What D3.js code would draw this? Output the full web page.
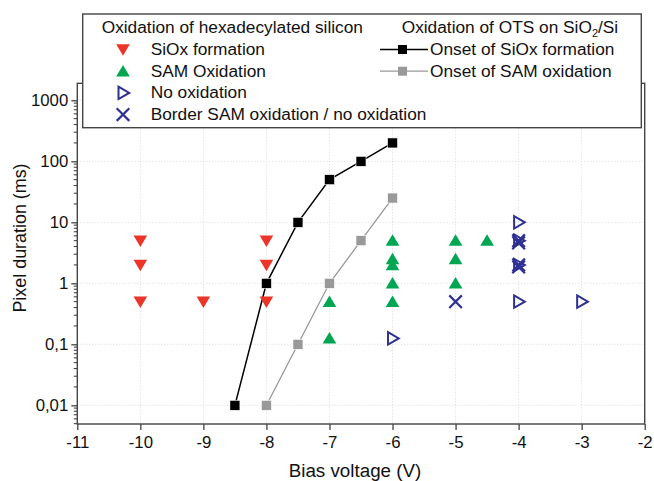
<!DOCTYPE html>
<meta charset="utf-8">
<html>
<head>
  <style>
  body { margin: 0; background: #fff; }
  text { font-family: "Liberation Sans", Arial, sans-serif; fill: #111; }
  .grid line { stroke: #d8d8d8; stroke-dasharray: 1,2; }
  </style>
  <script src="https://d3js.org/d3.v7.min.js"></script>
</head>
<body>
  <div id="chart"></div>
  <script type="text/javascript">
  var width = 654, height = 481;

  // plot frame (pixels)
  var plotLeft = 77.3, plotRight = 644.7, plotTop = 83.3, plotBottom = 424;

  /* Data */
  var xTicks = [-11, -10, -9, -8, -7, -6, -5, -4, -3, -2];
  var yTicks = [0.01, 0.1, 1, 10, 100, 1000];
  var yTickLabels = ["0,01", "0,1", "1", "10", "100", "1000"];

  // Oxidation of hexadecylated silicon
  var siox = [[-10, 5], [-10, 2], [-10, 0.5], [-9, 0.5], [-8, 5], [-8, 2], [-8, 0.5]];
  var samOx = [[-7, 0.5], [-7, 0.125], [-6, 5], [-6, 2.5], [-6, 2], [-6, 1], [-6, 0.5],
               [-5, 5], [-5, 2.5], [-5, 1], [-4.5, 5]];
  var noOx = [[-6, 0.125], [-4, 10], [-4, 5], [-4, 2], [-4, 0.5], [-3, 0.5]];
  var border = [[-5, 0.5], [-4, 5], [-4, 4.6], [-4, 2], [-4, 1.85]];

  // Oxidation of OTS on SiO2/Si
  var onsetSiox = [[-8.5, 0.01], [-8, 1], [-7.5, 10], [-7, 50], [-6.5, 100], [-6, 200]];
  var onsetSam = [[-8, 0.01], [-7.5, 0.1], [-7, 1], [-6.5, 5], [-6, 25]];

  var RED = "#ec3428", GREEN = "#00a651", BLUE = "#2e3192";

  var x = d3.scaleLinear().domain([-11, -2]).range([plotLeft, plotRight]);
  var y = d3.scaleLog().domain([0.00494, 1900]).range([plotBottom, plotTop]);

  var svg = d3.select("#chart").append("svg")
    .attr("width", width)
    .attr("height", height);

  // grid
  var grid = svg.append("g").attr("class", "grid");
  grid.selectAll(".gx").data(xTicks.slice(1, -1)).enter().append("line")
    .attr("x1", function(d) { return x(d); }).attr("x2", function(d) { return x(d); })
    .attr("y1", plotTop).attr("y2", plotBottom);
  grid.selectAll(".gy").data(yTicks).enter().append("line")
    .attr("x1", plotLeft).attr("x2", plotRight)
    .attr("y1", function(d) { return y(d); }).attr("y2", function(d) { return y(d); });

  // axes
  var xAxis = svg.append("g")
    .attr("transform", "translate(0," + plotBottom + ")")
    .call(d3.axisBottom(x).tickValues(xTicks).tickSize(6).tickPadding(4)
      .tickFormat(function(d) { return d; }));
  xAxis.selectAll("text").style("font-size", "16.8px").attr("dy", "0.85em");

  // minor log ticks
  var minor = [];
  for (var e = -3; e <= 3; e++) {
    for (var m = 2; m <= 9; m++) {
      var v = m * Math.pow(10, e);
      if (v >= y.domain()[0] && v <= y.domain()[1]) minor.push(v);
    }
  }
  svg.append("g").selectAll("line").data(minor).enter().append("line")
    .attr("x1", plotLeft - 3.5).attr("x2", plotLeft)
    .attr("y1", function(d) { return y(d); }).attr("y2", function(d) { return y(d); })
    .attr("stroke", "#333").attr("stroke-width", 1);

  var yAxis = svg.append("g")
    .attr("transform", "translate(" + plotLeft + ",0)")
    .call(d3.axisLeft(y).tickValues(yTicks).tickSize(6).tickPadding(3)
      .tickFormat(function(d, i) { return yTickLabels[i]; }));
  yAxis.selectAll("text").style("font-size", "16.8px");

  svg.selectAll(".domain").remove();
  svg.selectAll(".tick line").attr("stroke", "#333").attr("stroke-width", 1.2);

  // frame
  svg.append("rect")
    .attr("x", plotLeft).attr("y", plotTop)
    .attr("width", plotRight - plotLeft).attr("height", plotBottom - plotTop)
    .attr("fill", "none").attr("stroke", "#444").attr("stroke-width", 1.4);

  // axis titles
  svg.append("text")
    .attr("x", 355).attr("y", 476.5)
    .attr("text-anchor", "middle")
    .style("font-size", "18.8px")
    .text("Bias voltage (V)");
  svg.append("text")
    .attr("transform", "translate(26,238) rotate(-90)")
    .attr("text-anchor", "middle")
    .style("font-size", "17.9px")
    .text("Pixel duration (ms)");

  // lines
  var line = d3.line().x(function(d) { return x(d[0]); }).y(function(d) { return y(d[1]); });
  svg.append("path").datum(onsetSam).attr("d", line)
    .attr("fill", "none").attr("stroke", "#999").attr("stroke-width", 1.3);
  svg.append("path").datum(onsetSiox).attr("d", line)
    .attr("fill", "none").attr("stroke", "#000").attr("stroke-width", 1.5);

  function squares(data, color) {
    svg.append("g").selectAll("rect").data(data).enter().append("rect")
      .attr("x", function(d) { return x(d[0]) - 5; })
      .attr("y", function(d) { return y(d[1]) - 5; })
      .attr("width", 10).attr("height", 10)
      .attr("fill", color).attr("stroke", "#fff").attr("stroke-width", 0.6);
  }
  squares(onsetSam, "#999");
  squares(onsetSiox, "#000");

  // marker path generators (centered at 0,0)
  var downTri = "M-6.8,-5.2L6.8,-5.2L0,6.3Z";
  var upTri = "M-6.8,5.2L6.8,5.2L0,-6.3Z";
  var rightTri = "M-4.5,-6.2L6.2,0L-4.5,6.2Z";
  var cross = "M-6.3,-6.3L6.3,6.3M6.3,-6.3L-6.3,6.3";

  function markers(data, path, fill, stroke, sw) {
    svg.append("g").selectAll("path").data(data).enter().append("path")
      .attr("d", path)
      .attr("transform", function(d) { return "translate(" + x(d[0]) + "," + y(d[1]) + ")"; })
      .attr("fill", fill).attr("stroke", stroke).attr("stroke-width", sw);
  }
  markers(siox, downTri, RED, "none", 0);
  markers(samOx, upTri, GREEN, "none", 0);
  markers(noOx, rightTri, "none", BLUE, 2);
  markers(border, cross, "none", BLUE, 2.2);

  // legend
  var lg = svg.append("g");
  lg.append("rect")
    .attr("x", 82.7).attr("y", 14).attr("width", 558.6).attr("height", 113.7)
    .attr("fill", "#fff").attr("stroke", "#444").attr("stroke-width", 1.4);

  var leftItems = [
    { label: "SiOx formation", path: downTri, fill: RED, stroke: "none", sw: 0 },
    { label: "SAM Oxidation", path: upTri, fill: GREEN, stroke: "none", sw: 0 },
    { label: "No oxidation", path: rightTri, fill: "none", stroke: BLUE, sw: 2 },
    { label: "Border SAM oxidation / no oxidation", path: cross, fill: "none", stroke: BLUE, sw: 2.2 }
  ];
  var rowY = function(i) { return 55 + i * 21.7; };

  lg.append("text").attr("x", 101.7).attr("y", 33).style("font-size", "17.3px")
    .text("Oxidation of hexadecylated silicon");
  var li = lg.selectAll(".li").data(leftItems).enter().append("g");
  li.append("path")
    .attr("d", function(d) { return d.path; })
    .attr("transform", function(d, i) { return "translate(123," + (rowY(i) - 5.5) + ")"; })
    .attr("fill", function(d) { return d.fill; })
    .attr("stroke", function(d) { return d.stroke; })
    .attr("stroke-width", function(d) { return d.sw; });
  li.append("text")
    .attr("x", 150.7).attr("y", function(d, i) { return rowY(i); })
    .style("font-size", "17.3px")
    .text(function(d) { return d.label; });

  var t = lg.append("text").attr("x", 401.7).attr("y", 33).style("font-size", "17.3px");
  t.append("tspan").text("Oxidation of OTS on SiO");
  t.append("tspan").attr("dy", 4).style("font-size", "11px").text("2");
  t.append("tspan").attr("dy", -4).text("/Si");

  var rightItems = [
    { label: "Onset of SiOx formation", color: "#000", sw: 1.5 },
    { label: "Onset of SAM oxidation", color: "#999", sw: 1.3 }
  ];
  var ri = lg.selectAll(".ri").data(rightItems).enter().append("g");
  ri.append("line")
    .attr("x1", 380).attr("x2", 428)
    .attr("y1", function(d, i) { return rowY(i) - 5.5; })
    .attr("y2", function(d, i) { return rowY(i) - 5.5; })
    .attr("stroke", function(d) { return d.color; })
    .attr("stroke-width", function(d) { return d.sw; });
  ri.append("rect")
    .attr("x", 398).attr("y", function(d, i) { return rowY(i) - 10; })
    .attr("width", 9).attr("height", 9)
    .attr("fill", function(d) { return d.color; });
  ri.append("text")
    .attr("x", 430).attr("y", function(d, i) { return rowY(i); })
    .style("font-size", "17.3px")
    .text(function(d) { return d.label; });
  </script>
</body>
</html>
